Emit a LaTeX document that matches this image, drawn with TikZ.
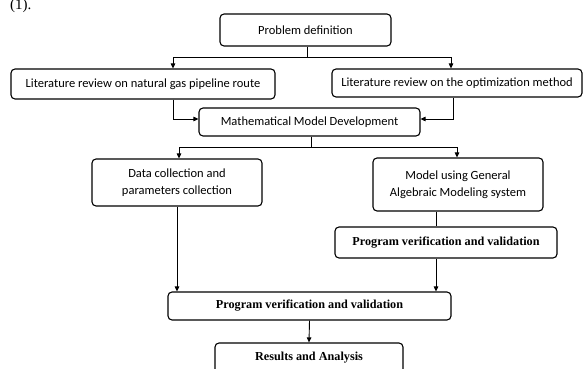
\documentclass[tikz,border=0pt]{standalone}
\usepackage{fontspec}
\setmainfont{Liberation Serif}
\newfontfamily\calib{Carlito}
\usetikzlibrary{arrows.meta,positioning}

\tikzset{
  box/.style={draw, line width=1.1pt, rounded corners=4pt, align=center, inner sep=0pt},
  sansbox/.style={box, font=\calib\fontsize{12.5}{17}\selectfont},
  serifbox/.style={box, font=\bfseries\fontsize{12.2}{14}\selectfont},
  link/.style={line width=0.9pt},
  >={Triangle[length=5pt,width=4.5pt]}
}

\begin{document}
\begin{tikzpicture}[x=1pt,y=-1pt]
    \useasboundingbox (0,0) rectangle (583,369);

    % caption left over from the page
    \node (cap) [anchor=base west, font=\fontsize{15}{15}\selectfont, inner sep=0pt] at (10,10) {(1).};

    % first row
    \node (prob) [sansbox, minimum width=171, minimum height=32] at (305.5,30) {Problem definition};
    \node (litgas) [sansbox, minimum width=264, minimum height=30] at (143,84) {Literature review on natural gas pipeline route};
    \node (litopt) [sansbox, minimum width=250, minimum height=28] at (457,83) {Literature review on the optimization method};
    \node (math) [sansbox, minimum width=221, minimum height=28] at (309.5,122) {Mathematical Model Development};

    % second row
    \node (data) [sansbox, minimum width=170, minimum height=47] at (177,182.5) {Data collection and\\parameters collection};
    \node (gams) [sansbox, minimum width=170, minimum height=53] at (458,184.5) {Model using General\\Algebraic Modeling system};
    \node (verR) [serifbox, minimum width=222, minimum height=31] at (446,242.5) {Program verification and validation};
    \node (verL) [serifbox, minimum width=283, minimum height=28] at (309.5,306) {Program verification and validation};
    \node (res) [serifbox, minimum width=188, minimum height=30] at (309,358) {Results and Analysis};

    \coordinate (split1) at (307,57);
    \coordinate (split2) at (311,147);

    % connectors
    \draw[link] ([xshift=1.5]prob.south) -- (split1);
    \draw[link,->] (split1) -| ([xshift=30]litgas.north);
    \draw[link,->] (split1) -| ([xshift=-6]litopt.north);
    \draw[link,->] ([xshift=30]litgas.south) |- ([yshift=3]math.west);
    \draw[link,->] ([xshift=-4]litopt.south) |- ([yshift=3]math.east);
    \draw[link] ([xshift=1.5]math.south) -- (split2);
    \draw[link,->] (split2) -| ([xshift=2]data.north);
    \draw[link,->] (split2) -| ([xshift=-1]gams.north);
    \draw[link] ([xshift=-22]gams.south) -- ([xshift=-22]gams.south |- verR.north);
    \draw[link,->] ([xshift=-10]verR.south) -- ([xshift=-10]verR.south |- verL.north);
    \draw[link,->] (data.south) -- (data.south |- verL.north);
    \draw[link,->] (verL.south) -- (res.north);
\end{tikzpicture}
\end{document}
